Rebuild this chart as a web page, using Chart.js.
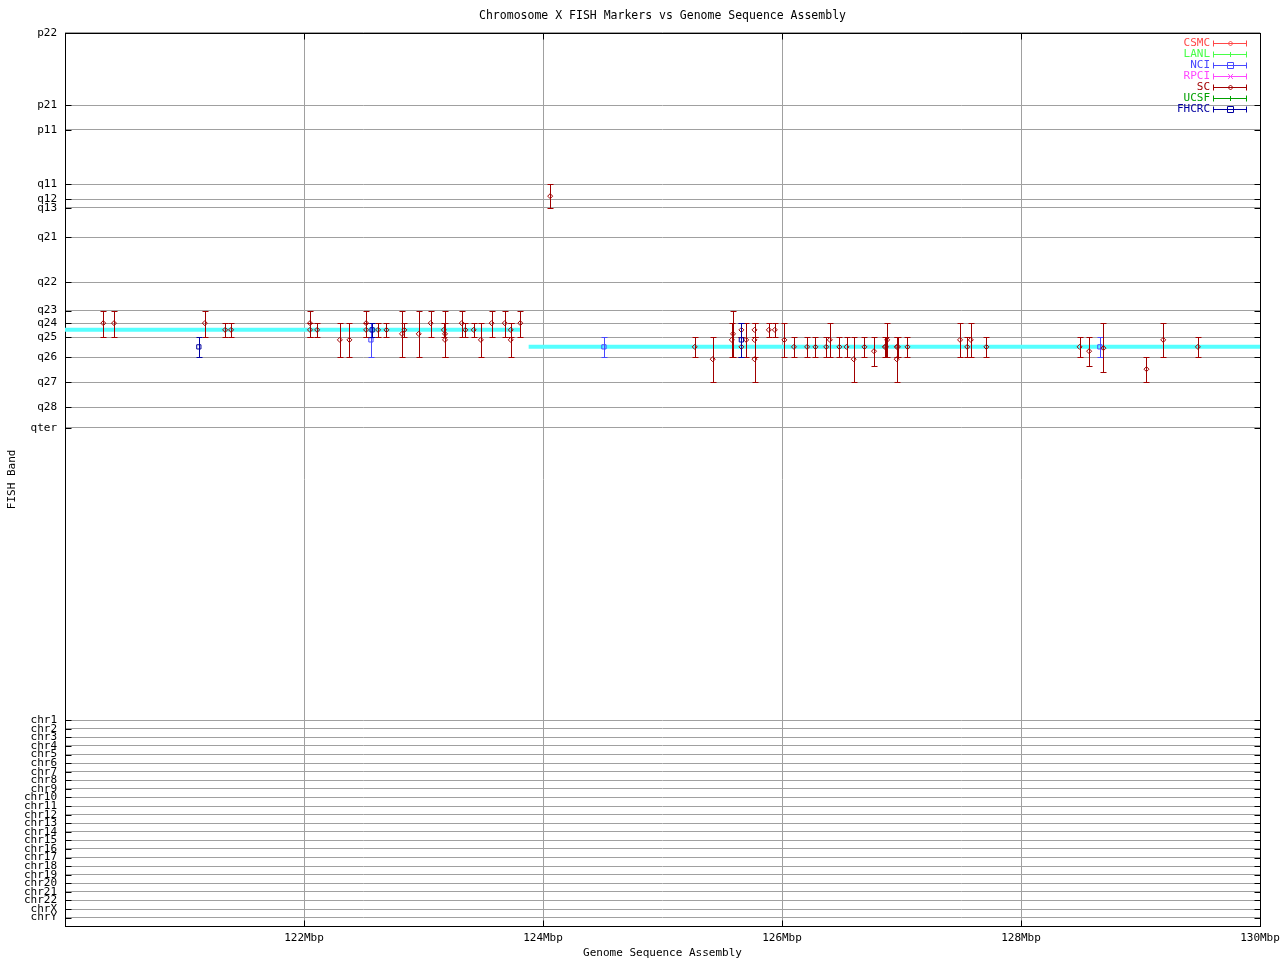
<!DOCTYPE html>
<html><head><meta charset="utf-8">
<script src="https://cdn.jsdelivr.net/npm/chart.js@4.4.1/dist/chart.umd.min.js"></script>
<style>html,body{margin:0;padding:0;background:#fff}canvas{display:block}</style>
</head><body>
<canvas id="c" width="1280" height="960"></canvas>
<script>
// ---- tick labels / positions (band axis, arbitrary units from top) ----
const bandLabels = ['p22','p21','p11','q11','q12','q13','q21','q22','q23','q24','q25','q26','q27','q28','qter'];
const bandValues = [0,72.3,97,151.3,166.3,175,204.3,249.3,277.7,290.3,304.3,324.3,349.3,374.3,395];
const chrLabels = ['chr1','chr2','chr3','chr4','chr5','chr6','chr7','chr8','chr9','chr10','chr11','chr12',
  'chr13','chr14','chr15','chr16','chr17','chr18','chr19','chr20','chr21','chr22','chrX','chrY'];
const chrValues = [687.3,695.9,704.5,713.0,721.6,730.2,738.8,747.4,755.9,764.5,773.1,781.7,
  790.3,798.8,807.4,816.0,824.6,833.2,841.7,850.3,858.9,867.5,876.1,884.6];
const xTickValues = [122,124,126,128,130];

// ---- series: [Mbp, centre band, band low, band high] ----
const csmcMarks = [];
const lanlMarks = [];
const nciMarks = [
  [122.56,307,290.3,324.3],[124.51,314,304.3,324.3],[128.66,314,304.3,324.3]
];
const rpciMarks = [];
const scMarks = [
  [120.32,290.3,277.7,304.3],[120.41,290.3,277.7,304.3],[121.17,290.3,277.7,304.3],
  [121.34,297,290.3,304.3],[121.39,297,290.3,304.3],
  [122.05,290.3,277.7,304.3],[122.05,297,290.3,304.3],[122.11,297,290.3,304.3],
  [122.30,307,290.3,324.3],[122.38,307,290.3,324.3],
  [122.52,290.3,277.7,304.3],[122.52,297,290.3,304.3],[122.62,297,290.3,304.3],[122.69,297,290.3,304.3],
  [122.82,301,277.7,324.3],[122.84,297,290.3,304.3],[122.96,301,277.7,324.3],
  [123.06,290.3,277.7,304.3],[123.17,297,290.3,304.3],[123.18,301,277.7,324.3],[123.18,307,290.3,324.3],
  [123.32,290.3,277.7,304.3],[123.35,297,290.3,304.3],[123.42,297,290.3,304.3],[123.48,307,290.3,324.3],
  [123.57,290.3,277.7,304.3],[123.68,290.3,277.7,304.3],[123.73,307,290.3,324.3],[123.73,297,290.3,304.3],
  [123.81,290.3,277.7,304.3],
  [124.06,163.3,151.3,175],
  [125.27,314,304.3,324.3],[125.42,326.3,304.3,349.3],[125.58,307,290.3,324.3],[125.59,301,277.7,324.3],
  [125.66,297,290.3,304.3],[125.66,314,304.3,324.3],[125.70,307,290.3,324.3],
  [125.77,297,290.3,304.3],[125.77,307,290.3,324.3],[125.77,326.3,304.3,349.3],
  [125.89,297,290.3,304.3],[125.94,297,290.3,304.3],[126.02,307,290.3,324.3],
  [126.10,314,304.3,324.3],[126.21,314,304.3,324.3],[126.28,314,304.3,324.3],[126.37,314,304.3,324.3],
  [126.40,307,290.3,324.3],[126.48,314,304.3,324.3],[126.54,314,304.3,324.3],[126.60,326.3,304.3,349.3],
  [126.69,314,304.3,324.3],[126.77,318.3,304.3,333.3],[126.87,314,304.3,324.3],[126.88,307,290.3,324.3],
  [126.86,314,304.3,324.3],[126.96,314,304.3,324.3],[126.97,314,304.3,324.3],[126.96,326.3,304.3,349.3],
  [127.05,314,304.3,324.3],
  [127.49,307,290.3,324.3],[127.55,314,304.3,324.3],[127.58,307,290.3,324.3],[127.71,314,304.3,324.3],
  [128.49,314,304.3,324.3],[128.57,318.3,304.3,333.3],[128.69,315.3,290.3,339],
  [129.05,336.3,324.3,349.3],[129.19,307,290.3,324.3],[129.48,314,304.3,324.3]
];
const ucsfMarks = [];
const fhcrcMarks = [
  [121.12,314,304.3,324.3],[122.57,297,290.3,304.3],[125.66,307,290.3,324.3]
];
// ---- assembly runs: [Mbp, band] ----
const assemblyRun1 = [[120.0,297],[123.81,297]];
const assemblyRun2 = [[123.88,314],[130.0,314]];

const MONO = '"DejaVu Sans Mono", "Liberation Mono", monospace';
const yTickValues = bandValues.concat(chrValues);
const yTickLabels = bandLabels.concat(chrLabels);

function series(label, marks, color, style, radius, order) {
  return {
    type: 'scatter', label, order,
    data: marks.map(m => ({x: m[0], y: m[1]})),
    err: marks, borderColor: color, backgroundColor: 'rgba(0,0,0,0)',
    pointStyle: style, pointRadius: radius, pointBorderWidth: 1, pointHoverRadius: radius,
    legendStyle: style
  };
}
function runSet(run) {
  return {type: 'line', label: '_assembly', data: run.map(p => ({x: p[0], y: p[1]})),
    borderColor: '#55ffff', borderWidth: 4, pointRadius: 0, fill: false, order: 100, clip: false};
}

const errorBars = {
  id: 'errorBars',
  beforeDatasetDraw(chart, args) {
    const ds = chart.data.datasets[args.index];
    if (!ds.err || !ds.err.length) return;
    const xs = chart.scales.x, ys = chart.scales.y, ctx = chart.ctx;
    ctx.save();
    ctx.strokeStyle = ds.borderColor; ctx.lineWidth = 1;
    ds.err.forEach(r => {
      const px = Math.round(xs.getPixelForValue(r[0])) + 0.5;
      const y1 = Math.round(ys.getPixelForValue(r[2])) + 0.5;
      const y2 = Math.round(ys.getPixelForValue(r[3])) + 0.5;
      ctx.beginPath();
      ctx.moveTo(px, y1); ctx.lineTo(px, y2);
      ctx.moveTo(px - 3, y1); ctx.lineTo(px + 3, y1);
      ctx.moveTo(px - 3, y2); ctx.lineTo(px + 3, y2);
      ctx.stroke();
    });
    ctx.restore();
  }
};

const frame = {
  id: 'frame',
  beforeDatasetsDraw(chart) {
    const {ctx, chartArea: a} = chart;
    const xs = chart.scales.x, ys = chart.scales.y;
    ctx.save();
    ctx.strokeStyle = '#000'; ctx.lineWidth = 1;
    const L = Math.round(a.left) + 0.5, R = Math.round(a.right) + 0.5, T = Math.round(a.top) + 0.5, B = Math.round(a.bottom) + 0.5;
    ctx.beginPath();
    yTickValues.forEach(v => {
      const y = Math.round(ys.getPixelForValue(v)) + 0.5;
      ctx.moveTo(L, y); ctx.lineTo(L + 6, y);
      ctx.moveTo(R - 6, y); ctx.lineTo(R, y);
    });
    xTickValues.forEach(v => {
      const x = Math.round(xs.getPixelForValue(v)) + 0.5;
      ctx.moveTo(x, B); ctx.lineTo(x, B - 6);
      ctx.moveTo(x, T); ctx.lineTo(x, T + 6);
    });
    ctx.stroke();
    ctx.strokeRect(L, T, R - L, B - T);
    ctx.restore();
  }
};

const legendColors = {CSMC:'#ff4848', LANL:'#48ff48', NCI:'#4848ff', RPCI:'#ff48ff', SC:'#a00000', UCSF:'#00a000', FHCRC:'#0000a0'};

function drawMarker(ctx, style, x, y, r) {
  ctx.beginPath();
  if (style === 'rectRot') { ctx.moveTo(x, y - r); ctx.lineTo(x + r, y); ctx.lineTo(x, y + r); ctx.lineTo(x - r, y); ctx.closePath(); }
  else if (style === 'rect') { ctx.rect(x - r, y - r, 2 * r, 2 * r); }
  else if (style === 'cross') { ctx.moveTo(x, y - r); ctx.lineTo(x, y + r); ctx.moveTo(x - r, y); ctx.lineTo(x + r, y); }
  else if (style === 'crossRot') { ctx.moveTo(x - r, y - r); ctx.lineTo(x + r, y + r); ctx.moveTo(x - r, y + r); ctx.lineTo(x + r, y - r); }
  ctx.stroke();
}

const keyBox = {
  id: 'keyBox',
  afterDraw(chart) {
    const ctx = chart.ctx;
    const items = chart.data.datasets.filter(d => d.label && d.label[0] !== '_');
    ctx.save();
    ctx.font = '11px ' + MONO;
    ctx.textAlign = 'right'; ctx.textBaseline = 'middle';
    items.forEach((d, i) => {
      const y = 43 + i * 11, yy = y + 0.5;
      const col = d.borderColor;
      ctx.fillStyle = col; ctx.fillText(d.label, 1210, y);
      ctx.strokeStyle = col; ctx.lineWidth = 1;
      ctx.beginPath();
      ctx.moveTo(1213.5, yy); ctx.lineTo(1246.5, yy);
      ctx.moveTo(1213.5, yy - 3); ctx.lineTo(1213.5, yy + 3);
      ctx.moveTo(1246.5, yy - 3); ctx.lineTo(1246.5, yy + 3);
      ctx.stroke();
      drawMarker(ctx, d.legendStyle, 1230.5, yy, d.pointRadius);
    });
    ctx.restore();
  }
};

new Chart(document.getElementById('c'), {
  data: {
    datasets: [
      series('CSMC', csmcMarks, legendColors.CSMC, 'rectRot', 2.5, 7),
      series('LANL', lanlMarks, legendColors.LANL, 'cross', 2.5, 6),
      series('NCI', nciMarks, legendColors.NCI, 'rect', 3, 5),
      series('RPCI', rpciMarks, legendColors.RPCI, 'crossRot', 2.5, 4),
      series('SC', scMarks, legendColors.SC, 'rectRot', 2.5, 3),
      series('UCSF', ucsfMarks, legendColors.UCSF, 'cross', 2.5, 2),
      series('FHCRC', fhcrcMarks, legendColors.FHCRC, 'rect', 3, 1),
      runSet(assemblyRun1),
      runSet(assemblyRun2)
    ]
  },
  options: {
    responsive: false, animation: false, devicePixelRatio: 1,
    layout: {padding: {top: 0, right: 20, bottom: 0, left: 0}},
    plugins: {
      legend: {display: false}, tooltip: {enabled: false},
      title: {display: true, fullSize: false, text: 'Chromosome X FISH Markers vs Genome Sequence Assembly',
        color: '#000', font: {family: MONO, size: 11.5, weight: 'normal'}, padding: {top: 9, bottom: 10}}
    },
    scales: {
      x: {
        type: 'linear', min: 120, max: 130,
        afterBuildTicks: s => { s.ticks = xTickValues.map(v => ({value: v})); },
        afterFit: s => { s.height = 34; s.paddingRight = 0; s.paddingLeft = 0; },
        ticks: {autoSkip: false, maxRotation: 0, padding: 6, color: '#000',
          font: {family: MONO, size: 11}, callback: v => v + 'Mbp'},
        grid: {color: '#a0a0a0', drawTicks: false},
        border: {display: false},
        title: {display: true, text: 'Genome Sequence Assembly', color: '#000',
          font: {family: MONO, size: 11}, padding: {top: 0, bottom: 0}}
      },
      y: {
        type: 'linear', reverse: true, min: 0, max: 893,
        afterBuildTicks: s => { s.ticks = yTickValues.map(v => ({value: v})); },
        afterFit: s => { s.width = 65; },
        ticks: {autoSkip: false, padding: 8, color: '#000',
          font: {family: MONO, size: 11}, callback: (v, i) => yTickLabels[i]},
        grid: {color: '#a0a0a0', drawTicks: false},
        border: {display: false},
        title: {display: true, text: 'FISH Band', color: '#000',
          font: {family: MONO, size: 11}, padding: {top: 6, bottom: 0}}
      }
    }
  },
  plugins: [errorBars, frame, keyBox]
});
</script>
</body></html>
